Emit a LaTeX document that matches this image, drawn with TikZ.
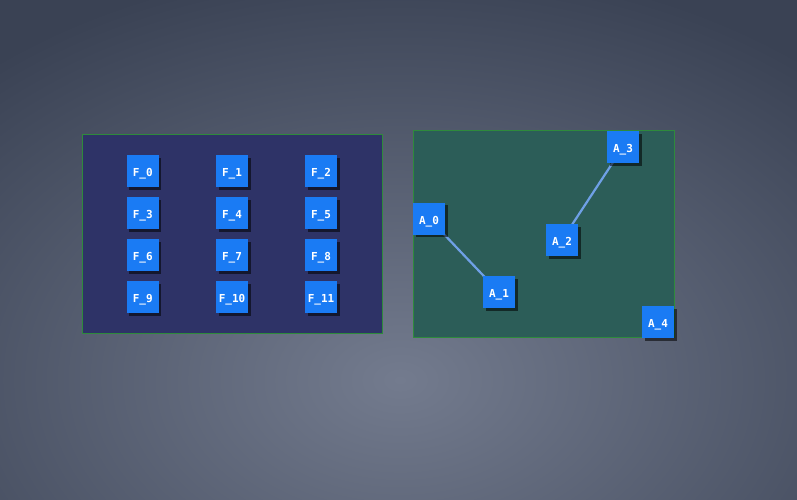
\documentclass[tikz,border=0pt]{standalone}
\usepackage{fontspec}
\setmonofont{DejaVu Sans Mono}
\usetikzlibrary{shadows}
\definecolor{bgin}{HTML}{737B8E}
\definecolor{bgout}{HTML}{3A4254}
\definecolor{panelF}{HTML}{2E3367}
\definecolor{panelA}{HTML}{2C5D58}
\definecolor{panelline}{HTML}{2E8A3C}
\definecolor{boxfill}{HTML}{1A7BF4}
\definecolor{edgecol}{HTML}{6FA0E6}
\tikzset{
  panel/.style={draw=panelline, line width=0.8pt},
  item/.style={draw=none, fill=boxfill, minimum width=32pt, minimum height=32pt,
    inner sep=0pt, text=white, font=\ttfamily\bfseries\fontsize{11}{11}\selectfont,
    text height=11pt, text depth=0pt,
    drop shadow={shadow xshift=2.5pt, shadow yshift=-2.5pt, opacity=0.55, fill=black}},
  link/.style={draw=edgecol, line width=2.2pt}
}
\begin{document}
\begin{tikzpicture}[x=1pt,y=-1pt]
\useasboundingbox (0,0) rectangle (797,499);
\begin{scope}
\clip (0,0) rectangle (797,499);
\shade[inner color=bgin, outer color=bgout] (400-620,380-420) rectangle (400+620,380+420);
\end{scope}
\path[panel, fill=panelF] (82,134) rectangle (382,333);
\path[panel, fill=panelA] (413.5,130.5) rectangle (674,337);
% F grid
\node[item] (F0) at (142.7,171) {F\_0};
\node[item] (F1) at (232,171) {F\_1};
\node[item] (F2) at (321,171) {F\_2};
\node[item] (F3) at (142.7,213) {F\_3};
\node[item] (F4) at (232,213) {F\_4};
\node[item] (F5) at (321,213) {F\_5};
\node[item] (F6) at (142.7,255) {F\_6};
\node[item] (F7) at (232,255) {F\_7};
\node[item] (F8) at (321,255) {F\_8};
\node[item] (F9) at (142.7,297) {F\_9};
\node[item] (F10) at (232,297) {F\_10};
\node[item] (F11) at (321,297) {F\_11};
% A graph
\coordinate (cA0) at (429,218.5);
\coordinate (cA1) at (499,292);
\coordinate (cA2) at (562,240);
\coordinate (cA3) at (623,147);
\draw[link] (cA0) -- (cA1);
\draw[link] (cA2) -- (cA3);
\node[item] (A0) at (cA0) {A\_0};
\node[item] (A1) at (cA1) {A\_1};
\node[item] (A2) at (cA2) {A\_2};
\node[item] (A3) at (cA3) {A\_3};
\node[item] (A4) at (658,322) {A\_4};
\end{tikzpicture}
\end{document}
